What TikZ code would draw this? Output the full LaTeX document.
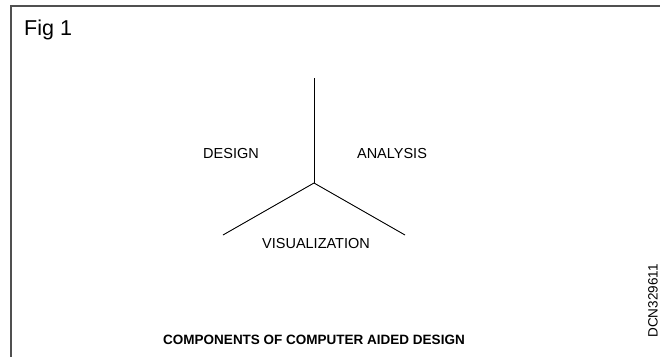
\documentclass[tikz,border=0pt]{standalone}
\usepackage{fontspec}
\setmainfont{Liberation Sans}
\usepackage{tikz}
\usetikzlibrary{positioning, calc}

\begin{document}
\begin{tikzpicture}[
    x=1pt, y=-1pt,
    label/.style={font=\fontsize{14.5}{16}\selectfont, inner sep=0pt},
    spoke/.style={line width=0.9pt, black},
]

% ── Colors ──
\definecolor{framecolor}{HTML}{505050}

% ══════════════════════════════════════════════
% Canvas and frame
% ══════════════════════════════════════════════
\useasboundingbox (0,0) rectangle (660,357);
\coordinate (frametr) at (660,6);
\coordinate (frametl) at (11,6);
\coordinate (framebl) at (11,357);
\draw[framecolor, line width=1.2pt] (frametr) -- (frametl) -- (framebl);

\node[font=\fontsize{21.5}{23}\selectfont, anchor=west, inner sep=0pt] (fig) at (24,30) {Fig 1};

% ══════════════════════════════════════════════
% Three spokes from the hub
% ══════════════════════════════════════════════
\coordinate (hub) at (314,183);
\coordinate (top) at (314,78);
\coordinate (left) at (223,235);
\coordinate (right) at (405,235);

\draw[spoke] (hub) -- (top);
\draw[spoke] (hub) -- (left);
\draw[spoke] (hub) -- (right);

% ══════════════════════════════════════════════
% Sector labels
% ══════════════════════════════════════════════
\node[label] (design) at (231,154) {DESIGN};
\node[label] (analysis) at (392,154) {ANALYSIS};
\node[label] (visual) at (316,243) {VISUALIZATION};

% ══════════════════════════════════════════════
% Caption and drawing number
% ══════════════════════════════════════════════
\node[font=\fontsize{13.5}{15}\selectfont\bfseries, inner sep=0pt] (caption) at (314,340)
    {COMPONENTS OF COMPUTER AIDED DESIGN};
\node[font=\fontsize{13.5}{15}\selectfont, rotate=90, inner sep=0pt] (dcn) at (653,301)
    {DCN329611};

\end{tikzpicture}
\end{document}
